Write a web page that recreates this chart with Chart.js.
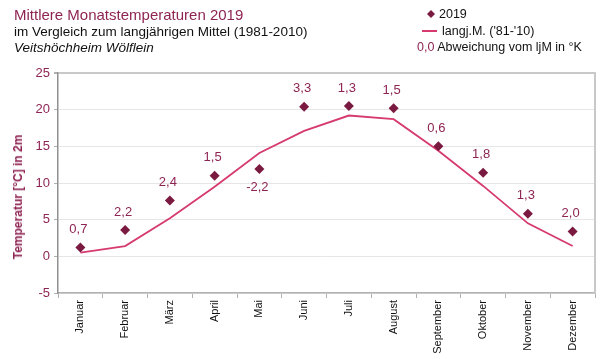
<!DOCTYPE html>
<html><head><meta charset="utf-8">
<script src="https://cdn.jsdelivr.net/npm/chart.js@4/dist/chart.umd.min.js"></script>
<style>
html,body{margin:0;padding:0;background:#fff;}
#wrap{position:relative;width:600px;height:359px;font-family:"Liberation Sans",Arial,sans-serif;}
canvas{position:absolute;left:0;top:0;}
.t{position:absolute;white-space:nowrap;line-height:1;}
</style></head><body>
<div id="wrap">
<canvas id="c" width="600" height="359"></canvas>
<div class="t" style="left:14px;top:7px;font-size:15px;color:#8e2453;">Mittlere Monatstemperaturen 2019</div>
<div class="t" style="left:14px;top:25px;font-size:13.5px;color:#111;">im Vergleich zum langjährigen Mittel (1981-2010)</div>
<div class="t" style="left:14px;top:41px;font-size:13.5px;color:#111;font-style:italic;">Veitshöchheim Wölflein</div>
<div class="t" style="left:439px;top:8px;font-size:12.5px;color:#111;">2019</div>
<div class="t" style="left:442px;top:25px;font-size:12.5px;color:#111;">langj.M. ('81-'10)</div>
<div class="t" style="left:417px;top:41px;font-size:12.5px;color:#111;"><span style="color:#8e2453">0,0</span> Abweichung vom ljM in °K</div>
<div class="t" style="left:18px;top:197px;font-size:12px;font-weight:bold;color:#8e2453;transform:translate(-50%,-50%) rotate(-90deg);">Temperatur [°C] in 2m</div>
<svg style="position:absolute;left:0;top:0" width="600" height="60">
<polygon points="431,10 435,14 431,18 427,14" fill="#7a1a40"/>
<line x1="422" y1="31" x2="437" y2="31" stroke="#d63a6e" stroke-width="2"/>
</svg>
</div>
<script>
const monate = ["Januar","Februar","März","April","Mai","Juni","Juli","August","September","Oktober","November","Dezember"];
const werte2019 = [1.2, 3.6, 7.6, 11.0, 11.9, 20.4, 20.5, 20.2, 15.0, 11.4, 5.8, 3.4];
const mittel8110 = [0.5, 1.4, 5.2, 9.5, 14.1, 17.1, 19.2, 18.7, 14.4, 9.6, 4.5, 1.4];
const abweichung = [0.7, 2.2, 2.4, 1.5, -2.2, 3.3, 1.3, 1.5, 0.6, 1.8, 1.3, 2.0];
const yTicks = [-5, 0, 5, 10, 15, 20, 25];

const MAROON = '#8e2453';
const labelPlugin = {
  id: 'devLabels',
  afterDatasetsDraw(chart) {
    const meta = chart.getDatasetMeta(0);
    const ctx = chart.ctx;
    ctx.save();
    ctx.font = '13px "Liberation Sans", Arial, sans-serif';
    ctx.fillStyle = MAROON;
    ctx.textAlign = 'center';
    ctx.textBaseline = 'middle';
    meta.data.forEach((pt, i) => {
      const v = abweichung[i];
      const txt = v.toFixed(1).replace('.', ',');
      const y = v < 0 ? pt.y + 18 : pt.y - 18;
      ctx.fillText(txt, pt.x - 2, y);
    });
    ctx.restore();
  }
};

new Chart(document.getElementById('c'), {
  type: 'line',
  data: {
    labels: monate,
    datasets: [
      { label: '2019', data: werte2019, showLine: false, pointStyle: 'rectRot', pointRadius: 5, pointHoverRadius: 5,
        backgroundColor: '#7a1a40', borderColor: '#7a1a40', borderWidth: 0 },
      { label: "langj.M. ('81-'10)", data: mittel8110, borderColor: '#d63a6e', borderWidth: 1.8, pointRadius: 0, fill: false, tension: 0 }
    ]
  },
  options: {
    responsive: false,
    animation: false,
    layout: { padding: { top: 73, right: 0, left: 0, bottom: 0 } },
    plugins: { legend: { display: false }, tooltip: { enabled: false }, title: { display: false } },
    scales: {
      x: {
        offset: true,
        grid: { offset: true, drawOnChartArea: false, drawTicks: true, tickLength: 5, color: '#b0b0b0' },
        border: { color: '#b0b0b0', width: 1.5 },
        ticks: { maxRotation: 90, minRotation: 90, color: '#111', padding: 2, font: { family: '"Liberation Sans", Arial, sans-serif', size: 11 } },
        afterFit(s) { s.height = 66; }
      },
      y: {
        min: -5, max: 25,
        afterBuildTicks(s) { s.ticks = yTicks.map(v => ({ value: v })); },
        grid: {
          color: c => (c.tick && c.tick.value === 25) ? '#c8c8c8' : '#e6e6e6',
          lineWidth: c => (c.tick && c.tick.value === 25) ? 2 : 1,
          tickColor: '#b0b0b0', tickLength: 4
        },
        border: { color: '#909090', width: 1.5 },
        ticks: { color: MAROON, padding: 4, font: { family: '"Liberation Sans", Arial, sans-serif', size: 13 } },
        afterFit(s) { s.width = 58; }
      },
      y2: {
        position: 'right', min: -5, max: 25,
        ticks: { display: false },
        grid: { drawOnChartArea: false, drawTicks: false },
        border: { color: '#c8c8c8', width: 2 },
        afterFit(s) { s.width = 3; }
      }
    }
  },
  plugins: [labelPlugin]
});
</script>
</body></html>
